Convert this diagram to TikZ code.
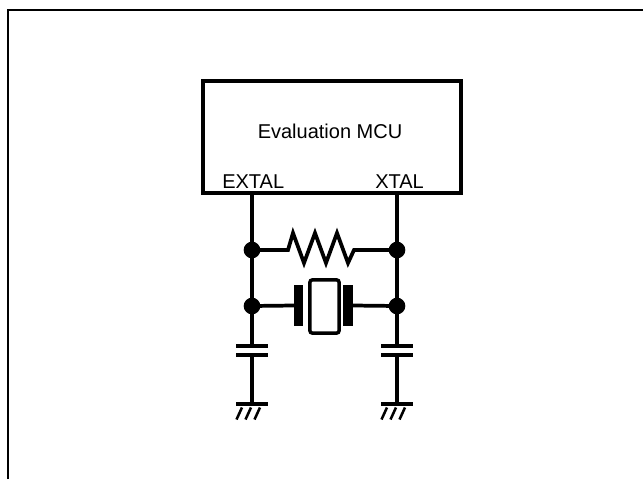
\documentclass[tikz,border=0pt]{standalone}
\usepackage{fontspec}
\setmainfont{Liberation Sans}
\begin{document}
\begin{tikzpicture}[x=0.75pt,y=-0.75pt,
  wire/.style={line width=2.8pt},
  dotn/.style={circle,fill=black,inner sep=0pt,outer sep=0pt,minimum size=12.5pt},
  plate/.style={rectangle,fill=black,inner sep=0pt,outer sep=0pt},
  capplate/.style={plate,minimum width=24pt,minimum height=3.2pt},
  gndbar/.style={plate,minimum width=24pt,minimum height=3pt},
  hatch/.style={line width=1.9pt},
  lbl/.style={font=\fontsize{15}{17}\selectfont,inner sep=0pt}]
\useasboundingbox (0,0) rectangle (643,479);
% outer frame
\draw[line width=1.6pt] (8,479) -- (8,10) -- (643,10);
% MCU box
\node[draw,line width=3pt,minimum width=193.5pt,minimum height=84pt,inner sep=0pt,outer sep=0pt] (mcu) at (332,137) {};
\node[lbl] (title) at (330,131) {Evaluation MCU};
\node[lbl,anchor=base west] (extal) at (222,188) {EXTAL};
\node[lbl,anchor=base west] (xtal) at (375,188) {XTAL};
\coordinate (ex) at (252,193);
\coordinate (xt) at (397,193);
% junctions
\node[dotn] (j1) at (252,250) {};
\node[dotn] (j2) at (397,250) {};
\node[dotn] (j3) at (252,306) {};
\node[dotn] (j4) at (397,306) {};
% capacitors
\node[capplate] (c1a) at (252,346.3) {};
\node[capplate] (c1b) at (252,355.3) {};
\node[capplate] (c2a) at (397,346.3) {};
\node[capplate] (c2b) at (397,355.3) {};
% grounds
\node[gndbar] (g1) at (252,403.5) {};
\node[gndbar] (g2) at (397,403.5) {};
% crystal
\node[plate,minimum width=7pt,minimum height=31pt] (xl) at (298.5,305.5) {};
\node[plate,minimum width=7pt,minimum height=31pt] (xr) at (348,305.5) {};
\node[draw,line width=2.6pt,rounded corners=2pt,inner sep=0pt,outer sep=0pt,minimum width=22pt,minimum height=40pt] (xc) at (324.5,306.5) {};
% wires
\draw[wire] (ex) -- (j1.center) -- (j3.center) -- (c1a.north);
\draw[wire] (xt) -- (j2.center) -- (j4.center) -- (c2a.north);
\draw[wire] (c1b.south) -- (g1.north);
\draw[wire] (c2b.south) -- (g2.north);
\draw[wire] (j3.center) -- (xl.west);
\draw[wire] (xr.east) -- (j4.center);
% resistor
\draw[wire,line join=miter] (j1.center) -- (288,250) -- (293,233) -- (304,263) -- (315,233) -- (326,263) -- (337,233) -- (348,263) -- (354,250) -- (j2.center);
% ground hatches
\foreach \g in {g1,g2}{
  \draw[hatch] ([shift={(-10,4)}]\g.center) -- ([shift={(-15.5,16)}]\g.center);
  \draw[hatch] ([shift={(-1,4)}]\g.center) -- ([shift={(-6.5,16)}]\g.center);
  \draw[hatch] ([shift={(8,4)}]\g.center) -- ([shift={(2.5,16)}]\g.center);
}
\end{tikzpicture}
\end{document}
